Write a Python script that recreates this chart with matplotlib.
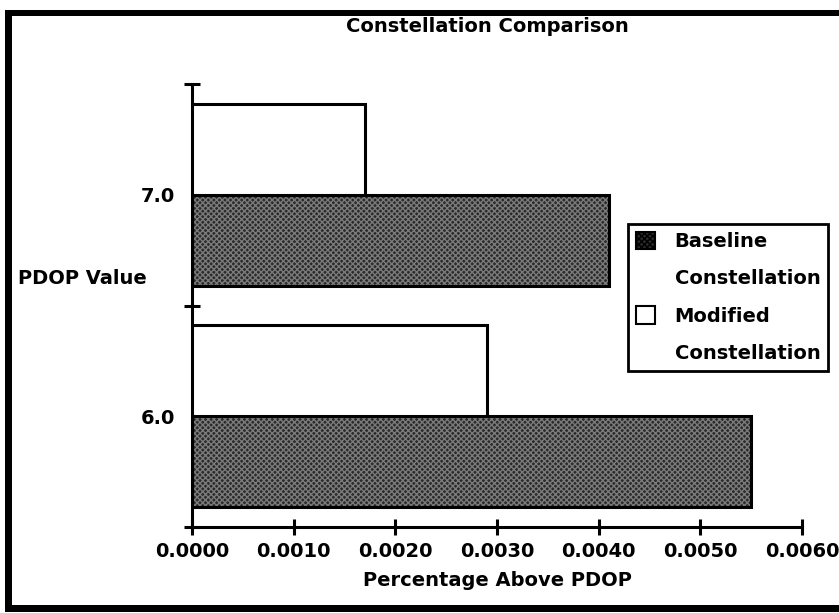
import matplotlib
matplotlib.use("Agg")
import matplotlib.pyplot as plt
from matplotlib.patches import Patch, Rectangle
import numpy as np

categories = ["6.0", "7.0"]
baseline = [0.0055, 0.0041]
modified = [0.0029, 0.0017]
xticks = [0.0, 0.001, 0.002, 0.003, 0.004, 0.005, 0.006]
xticklabels = ["0.0000", "0.0010", "0.0020", "0.0030", "0.0040", "0.0050", "0.0060"]
legend_lines = ["Baseline", "Constellation", "Modified", "Constellation"]

W, H = 839, 613
fig = plt.figure(figsize=(W / 100, H / 100), dpi=100)
FONT = dict(family="DejaVu Sans", weight="bold")
FS = 14

def fx(px):
    return px / W

def fy(py):
    return 1 - py / H

ax = fig.add_axes([fx(192), fy(527), fx(802) - fx(192), fy(84) - fy(527)])

y = np.arange(len(categories))
h = 0.41
dark = "#2a2a2a"
# baseline: dark dithered fill
ax.barh(y - h / 2, baseline, height=h, color=dark, edgecolor="#7a7a7a",
        hatch="xxxxxx", linewidth=0, zorder=2)
ax.barh(y - h / 2, baseline, height=h, fill=False, edgecolor="black",
        linewidth=2.2, zorder=3)
ax.barh(y + h / 2, modified, height=h, color="white", edgecolor="black",
        linewidth=2.2, zorder=3)

ax.set_xlim(0, 0.006)
ax.set_ylim(-0.5, 1.5)
for s in ["top", "right"]:
    ax.spines[s].set_visible(False)
for s in ["left", "bottom"]:
    ax.spines[s].set_linewidth(2.2)

ax.set_xticks(xticks)
ax.set_xticklabels(xticklabels, fontsize=FS, **FONT)
ax.tick_params(axis="x", direction="inout", length=12, width=2.2, pad=5)

ax.set_yticks(y)
ax.set_yticklabels(categories, fontsize=FS, **FONT)
ax.tick_params(axis="y", which="major", length=0, pad=12)
ax.set_yticks([-0.5, 0.5, 1.5], minor=True)
ax.tick_params(axis="y", which="minor", direction="inout", length=12, width=2.2)

ax.set_xlabel("Percentage Above PDOP", fontsize=FS, labelpad=7, **FONT)
fig.text(fx(18), fy(278), "PDOP Value", fontsize=FS, ha="left", va="center", **FONT)
fig.text(fx(487), fy(27), "Constellation Comparison", fontsize=FS, ha="center",
         va="center", **FONT)

handles = [Patch(facecolor=dark, edgecolor="#7a7a7a", hatch="xxxxxx", linewidth=1.5),
           Patch(visible=False),
           Patch(facecolor="white", edgecolor="black", linewidth=1.5),
           Patch(visible=False)]
leg = fig.legend(handles, legend_lines,
                 loc="upper left", bbox_to_anchor=(fx(628), fy(224)),
                 prop=dict(size=FS, **FONT), frameon=True, fancybox=False,
                 edgecolor="black", handlelength=1.0, handleheight=1.0,
                 handletextpad=1.0, borderpad=0.4, labelspacing=0.92,
                 borderaxespad=0)
leg.get_frame().set_linewidth(2.0)
leg.get_frame().set_alpha(1)
for p in leg.get_patches():
    if p.get_visible():
        p.set_edgecolor("black")

# figure frame
fig.add_artist(Rectangle((fx(5), fy(16)), 1, fy(10) - fy(16), transform=fig.transFigure,
                         color="black", lw=0))
fig.add_artist(Rectangle((fx(5), fy(612)), fx(7), fy(10) - fy(612), transform=fig.transFigure,
                         color="black", lw=0))
fig.add_artist(Rectangle((fx(5), fy(612)), 1, fy(605) - fy(612), transform=fig.transFigure,
                         color="black", lw=0))

fig.savefig("out.png", dpi=100)
